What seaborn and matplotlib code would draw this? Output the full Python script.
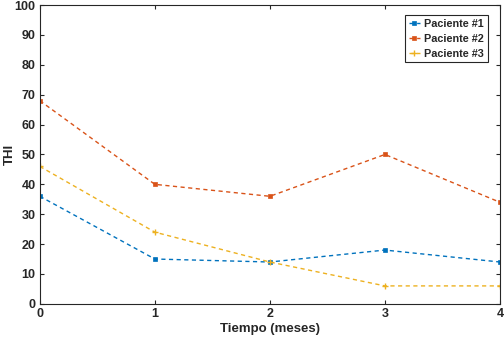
import matplotlib
matplotlib.use("Agg")
import matplotlib.pyplot as plt
import seaborn as sns
import pandas as pd

months = [0, 1, 2, 3, 4]
paciente1 = [36, 15, 14, 18, 14]
paciente2 = [68, 40, 36, 50, 34]
paciente3 = [46, 24, 14, 6, 6]
names = ["Paciente #1", "Paciente #2", "Paciente #3"]
colors = ["#0072BD", "#D95319", "#EDB120"]
markers = ["s", "s", "+"]

sns.set_theme(style="white")
plt.rcParams['font.family'] = ['Liberation Sans', 'DejaVu Sans']
plt.rcParams['font.weight'] = 'bold'

fig = plt.figure(figsize=(5.04, 3.41), dpi=100)
ax = fig.add_axes([0.079, 0.109, 0.913, 0.876])

for name, vals, c, m in zip(names, [paciente1, paciente2, paciente3], colors, markers):
    df = pd.DataFrame({"Tiempo": months, "THI": vals})
    sns.lineplot(data=df, x="Tiempo", y="THI", ax=ax, color=c, linestyle=(0, (3, 2.5)),
                 linewidth=1.0, marker=m, markersize=3.5 if m == "s" else 5,
                 markeredgewidth=1.0 if m == "+" else 0.5, markeredgecolor=c,
                 label=name)

ax.set_xlim(0, 4)
ax.set_ylim(0, 100)
ax.set_xticks(range(0, 5))
ax.set_yticks(range(0, 101, 10))
ax.tick_params(direction="in", length=3, width=0.8, labelsize=9, colors="#262626",
               top=True, right=True, bottom=True, left=True, pad=3)
for lab in ax.get_xticklabels() + ax.get_yticklabels():
    lab.set_fontweight("bold")
ax.set_xlabel("Tiempo (meses)", fontsize=9.5, fontweight="bold", color="#262626", labelpad=2)
ax.set_ylabel("THI", fontsize=9.5, fontweight="bold", color="#262626")
ax.yaxis.set_label_coords(-0.053, 0.5)
for s in ax.spines.values():
    s.set_color("#262626")
    s.set_linewidth(0.8)

leg = ax.legend(loc="upper right", fontsize=7.8, frameon=True, fancybox=False,
                edgecolor="#262626", framealpha=1, handlelength=1.0,
                handletextpad=0.4, borderpad=0.35, labelspacing=0.45,
                bbox_to_anchor=(0.985, 0.985))
leg.get_frame().set_linewidth(0.8)
for t in leg.get_texts():
    t.set_fontweight("bold")

fig.savefig("out.png", dpi=100)
